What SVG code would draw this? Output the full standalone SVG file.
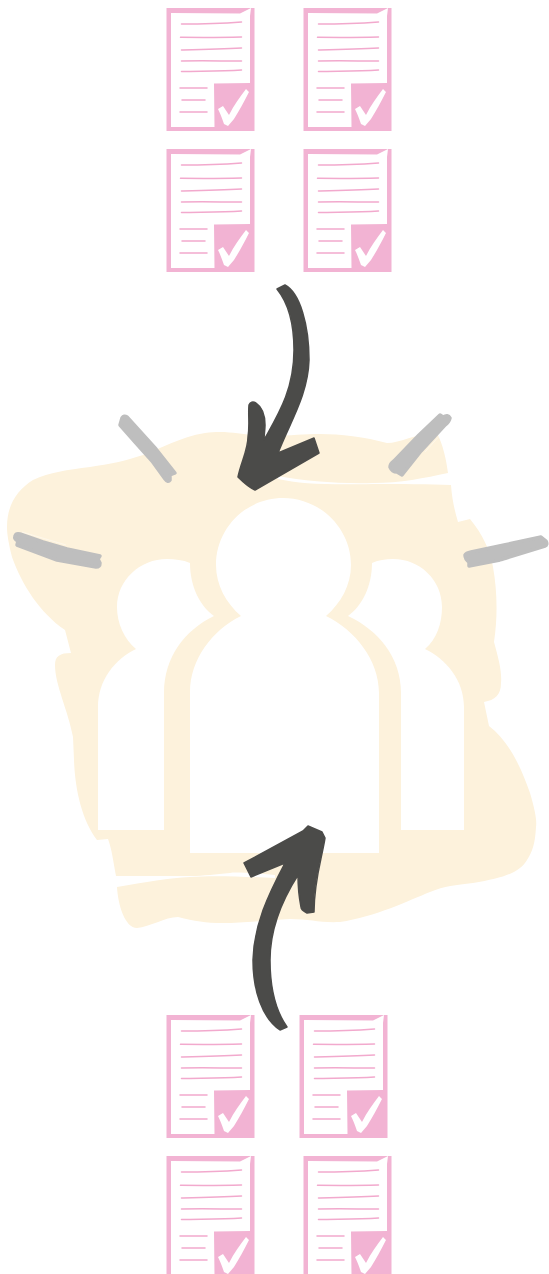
<svg xmlns="http://www.w3.org/2000/svg" width="549" height="1274" viewBox="0 0 549 1274">
<style>
.blob{fill:#fdf2dc}
.person{fill:#fff}
.ray{fill:#bebebe;stroke:#bebebe;stroke-width:3.5;stroke-linejoin:round}
.scratch{fill:none;stroke:#fff;stroke-width:.7;opacity:.6}
.arrow{fill:#4b4b49;stroke:#4b4b49;stroke-width:1.5;stroke-linejoin:round}
.page{fill:#f2b3d3}
.sheet{fill:#fff}
.ln{stroke:#f2a9cd;stroke-width:1.5;fill:none;stroke-linecap:round}
.tick{fill:#fff}
</style>
<defs>
<g id="doc">
<rect class="page" x="0.500" y="0" width="88" height="123"/>
<path class="sheet" d="M5 5L74 5.500L85 0L84 8L84 75L48 75.500L48.500 119L5 119Z"/>
<path class="ln" d="M15.500 16C35 16 55 15.500 75.500 14M14.500 29.300C35 29.500 55 29.500 75.500 29M15.500 42C35 41.500 55 41 75.500 40M15.500 53C35 52.500 55 53 75.500 53M15.500 63.500C35 63 55 63.500 75.500 62M14 80L41 80M16 92L39 92M14 104L41 104"/>
<path class="tick" d="M52 101L57 98L63 107C68 97 74 89 80 81L83 84C78 94 73 103 68 111L62 118L58 116C56 110 54 105 52 101Z"/>
</g>
</defs>
<g id="background">
<path class="blob" d="M7 527C7 505 17 490 33 480C50 472 67 470 90 467C110 464 125 461 143 455C160 449 180 437 205 433C225 430 240 434 253 435C280 437 300 434 320 434C340 434 365 437 387 443C400 443 420 432 437 433C443 445 446 458 448 473C425 478 400 483 373 483C340 484 305 481 277 476L278 479C300 484 330 485 373 484C400 484 430 484 451 485C452 500 455 512 458 522L470 519C483 535 490 550 493 567C497 590 498 615 494 642C499 660 502 672 501 683C501 695 495 700 484 702L489 726C510 742 522 770 530 793C535 810 537 820 536 827C535 845 532 852 527 860C520 872 505 878 473 883C455 885 445 886 430 892C410 900 375 917 340 922C320 923 310 919 290 919C270 920 245 923 223 923C205 923 195 921 178 917C165 917 150 927 137 928C125 928 118 905 117 887C145 882 170 878 190 877C215 875 250 877 275 878L275 875C255 873 235 872 230 873C215 874 205 876 190 876L116 876C113 860 112 850 108 839L97 840C82 820 75 790 74 760L73 737C68 710 55 685 55 665C55 656 60 653 71 653L65 630C40 613 22 585 12 557C9 545 7 535 7 527Z"/>
</g>
<g id="people">
<g id="person-left"><path class="person" d="M98 830L98 707C98 680 115 659 136 649C124 639 117 623 117 607C117 580 140 559 167 559C175 559 183 560 190 563C190 585 199 605 214 616C185 630 164 657 164 693L164 830Z"/></g>
<g id="person-right"><path class="person" d="M464 830L464 707C464 680 446 659 425 649C437 639 442 623 442 607C442 580 420 559 393 559C385 559 379 560 372 563C372 585 363 605 348 616C378 630 401 657 401 693L401 830Z"/></g>
<g id="person-center"><path class="person" d="M190 853L190 692C190 660 212 630 241 616C226 603 216 585 216 565C216 528 246 498 283 498C320 498 351 528 351 565C351 585 341 603 326 616C355 630 379 660 379 693L379 853Z"/></g>
</g>
<g id="connectors">
<g id="ray-top-left">
<path class="ray" d="M120 425L122 418Q124 415 127 417L156 449L175 473L170 475L170 480Q168 483 165 479L152 461L135 442Z"/>
<path class="scratch" d="M130 415L156 444"/>
</g>
<g id="ray-left">
<path class="ray" d="M15 536Q16 533 20 534L43 542L67 549L100 556L98 559L100 563Q100 567 96 567L57 560L17 545L18 541Q14 539 15 536Z"/>
<path class="scratch" d="M22 532L66 545"/>
</g>
<g id="ray-top-right">
<path class="ray" d="M390 467Q390 464 394 461L419 435L440 415L443 417Q448 414 450 418Q449 422 445 425L421 451L402 475L397 472Q392 472 390 467Z"/>
<path class="scratch" d="M425 452L442 433"/>
</g>
<g id="ray-right">
<path class="ray" d="M465 555Q466 553 471 552L504 545L541 537L546 541Q548 545 545 546L500 560L469 566L469 562Q465 559 465 555Z"/>
<path class="scratch" d="M500 562L531 555"/>
</g>
<path id="arrow-down" class="arrow" d="M277 289L285 285C300 293 309 325 309 360C308 395 290 422 278 453L314 438L319 453L255 490C248 487 243 482 238 477C241 462 248 450 248 437C250 425 248 415 249 405C250 402 253 401 256 403C262 407 265 415 265 425C265 430 264 435 264 440C278 415 294 390 294 350C294 325 290 305 277 289Z"/>
<path id="arrow-up" class="arrow" d="M287 1027L280 1030C262 1018 253 990 253 960C254 925 268 895 285 863L251 877L244 863L303 831L308 826L322 832L325 838C322 858 314 880 314 912L307 913C303 911 301 909 301 907C299 897 298 885 298 875C282 900 270 930 270 960C270 985 275 1010 287 1027Z"/>
</g>
<g id="doc-1"><use href="#doc" x="166" y="8"/></g>
<g id="doc-2"><use href="#doc" x="303" y="8"/></g>
<g id="doc-3"><use href="#doc" x="166" y="149"/></g>
<g id="doc-4"><use href="#doc" x="303" y="149"/></g>
<g id="doc-5"><use href="#doc" x="166" y="1015"/></g>
<g id="doc-6"><use href="#doc" x="299" y="1015"/></g>
<g id="doc-7"><use href="#doc" x="166" y="1156"/></g>
<g id="doc-8"><use href="#doc" x="303" y="1156"/></g>
</svg>
